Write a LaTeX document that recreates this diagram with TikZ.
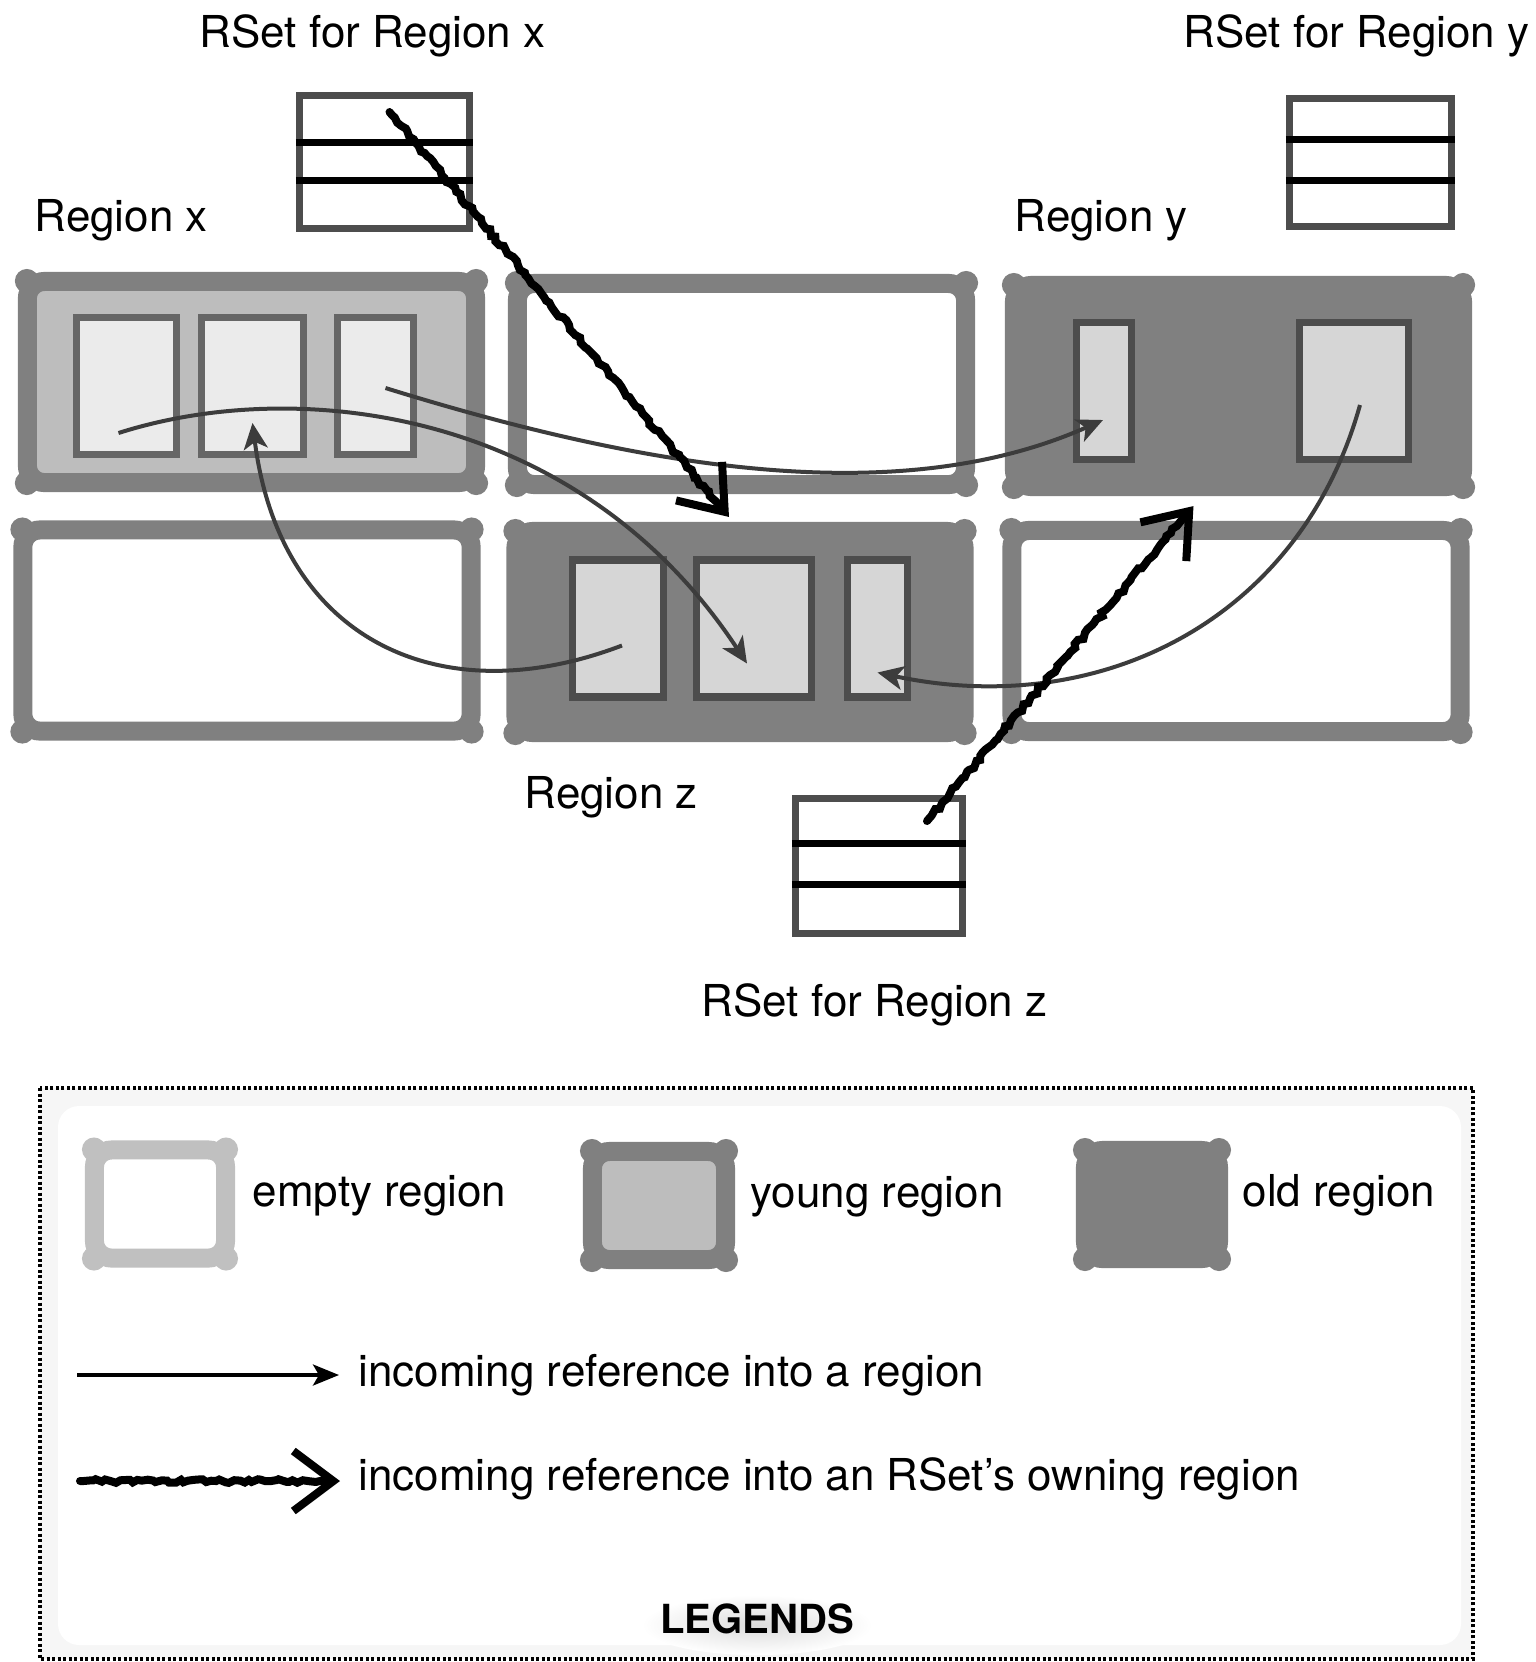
\documentclass[tikz,border=0pt]{standalone}
\usepackage{fontspec}
\setmainfont{TeX Gyre Heros}
\usepackage{tikz}
\usetikzlibrary{arrows.meta, positioning, calc, decorations.pathmorphing}
\definecolor{regGray}{HTML}{808080}
\definecolor{youngGray}{HTML}{BDBDBD}
\definecolor{emptyGray}{HTML}{C0C0C0}
\definecolor{slotLight}{HTML}{EBEBEB}
\definecolor{slotLightEdge}{HTML}{666666}
\definecolor{slotOld}{HTML}{D6D6D6}
\definecolor{slotOldEdge}{HTML}{4D4D4D}
\definecolor{refGray}{HTML}{3C3C3C}
\definecolor{legendBack}{HTML}{F6F6F6}

\begin{document}
\begin{tikzpicture}[x=0.01cm, y=-0.01cm,
  font=\fontsize{12.5}{15}\selectfont,
  region/.style={rectangle, line width=0.19cm, rounded corners=0.17cm, inner sep=0pt,
                 minimum width=4.48cm, minimum height=2.01cm},
  emptyreg/.style={region, draw=regGray, fill=white},
  youngreg/.style={region, draw=regGray, fill=youngGray},
  oldreg/.style={region, draw=regGray, fill=regGray},
  slot/.style={rectangle, line width=0.075cm, inner sep=0pt, minimum height=1.37cm},
  youngslot/.style={slot, draw=slotLightEdge, fill=slotLight},
  oldslot/.style={slot, draw=slotOldEdge, fill=slotOld},
  rset/.style={rectangle, draw=slotOldEdge, line width=0.07cm, fill=white, inner sep=0pt},
  rline/.style={line width=0.07cm, black},
  lbl/.style={inner sep=0pt, anchor=base west},
  ref/.style={refGray, line width=0.04cm, -{Stealth[length=0.26cm, width=0.24cm, inset=0.07cm]}},
  sketch/.style={black, line width=0.08cm, line cap=round,
                 decorate, decoration={random steps, segment length=1.3pt, amplitude=0.55pt,
                                       pre length=1pt, post length=0.2cm},
                 -{Straight Barb[length=0.4cm, width=0.6cm, line width=0.08cm]}},
]
  \useasboundingbox (0,0) rectangle (1536,1662);
  \pgfmathsetseed{7}

  % regions
  \node[youngreg] (rx) at (251.5,382) {};
  \node[emptyreg] (rt) at (741.5,384) {};
  \node[oldreg]   (ry) at (1238.5,386) {};
  \node[emptyreg] (rb) at (247,630.5) {};
  \node[oldreg]   (rz) at (740,632) {};
  \node[emptyreg] (rr) at (1236,631) {};
  % bulging corners
  \foreach \r in {rx,rt,ry,rb,rz,rr}
    \foreach \a/\sx/\sy in {north east/-1/1,north west/1/1,south east/-1/-1,south west/1/-1}
      \fill[regGray] ($(\r.\a)+(9*\sx,9*\sy)$) circle (0.12cm);

  % slots inside the regions
  \node[youngslot, minimum width=0.995cm] (xs1) at (126.5,386) {};
  \node[youngslot, minimum width=1.015cm] (xs2) at (252.5,386) {};
  \node[youngslot, minimum width=0.755cm] (xs3) at (375.5,386) {};
  \node[oldslot, minimum width=0.545cm] (ys1) at (1104,391) {};
  \node[oldslot, minimum width=1.085cm] (ys2) at (1354,391) {};
  \node[oldslot, minimum width=0.905cm] (zs1) at (618,628.5) {};
  \node[oldslot, minimum width=1.145cm] (zs2) at (754,628.5) {};
  \node[oldslot, minimum width=0.595cm] (zs3) at (877.5,628.5) {};

  % remembered sets
  \node[rset, minimum width=1.70cm, minimum height=1.33cm] (rsx) at (384.5,162) {};
  \node[rset, minimum width=1.62cm, minimum height=1.28cm] (rsy) at (1370.5,162.5) {};
  \node[rset, minimum width=1.67cm, minimum height=1.35cm] (rsz) at (879,866) {};
  \draw[rline] ([yshift=0.2cm]rsx.west) -- ([yshift=0.2cm]rsx.east);
  \draw[rline] ([yshift=-0.18cm]rsx.west) -- ([yshift=-0.18cm]rsx.east);
  \draw[rline] ([yshift=0.235cm]rsy.west) -- ([yshift=0.235cm]rsy.east);
  \draw[rline] ([yshift=-0.175cm]rsy.west) -- ([yshift=-0.175cm]rsy.east);
  \draw[rline] ([yshift=0.23cm]rsz.west) -- ([yshift=0.23cm]rsz.east);
  \draw[rline] ([yshift=-0.18cm]rsz.west) -- ([yshift=-0.18cm]rsz.east);

  % labels
  \node[lbl] (lrsx) at (199,47) {RSet for Region x};
  \node[lbl] (lrsy) at (1183,47) {RSet for Region y};
  \node[lbl] (lrx) at (34,231) {Region x};
  \node[lbl] (lry) at (1014,231) {Region y};
  \node[lbl] (lrz) at (524,808) {Region z};
  \node[lbl] (lrsz) at (701,1016) {RSet for Region z};

  % references between regions
  \draw[ref] ($(xs1)+(-8,47)$) .. controls (300,375) and (580,410) .. ($(zs2)+(-7,35)$);
  \draw[ref] ($(xs3)+(10,2)$) .. controls (650,470) and (900,510) .. ($(ys1)+(-1,29)$);
  \draw[ref] ($(zs1)+(4,17)$) .. controls (440,715) and (280,640) .. ($(xs2)+(0,37)$);
  \draw[ref] ($(ys2)+(6,14)$) .. controls (1300,620) and (1100,720) .. ($(zs3)+(0,44)$);

  % references kept in the rsets
  \draw[sketch] ($(rsx)+(5,-50)$) -- ($(rz.north)+(-11,-5)$);
  \draw[sketch] ($(rsz)+(48,-45)$) -- ($(ry.south)+(-45,10)$);

  % legend
  \fill[legendBack] (40,1088) rectangle (1473,1659);
  \fill[white, rounded corners=6pt] (58,1106) rectangle (1461,1645);
  \draw[black, line width=0.035cm, dash pattern=on 0.03cm off 0.025cm] (40,1088) rectangle (1473,1659);

  \node[region, draw=emptyGray, fill=white, minimum width=1.31cm, minimum height=1.08cm] (lgempty) at (160,1204) {};
  \node[region, draw=regGray, fill=youngGray, minimum width=1.33cm, minimum height=1.08cm] (lgyoung) at (659,1205.5) {};
  \node[region, draw=regGray, fill=regGray, minimum width=1.33cm, minimum height=1.08cm] (lgold) at (1152,1204.5) {};
  \foreach \a/\sx/\sy in {north east/-1/1,north west/1/1,south east/-1/-1,south west/1/-1} {
    \fill[emptyGray] ($(lgempty.\a)+(9*\sx,9*\sy)$) circle (0.12cm);
    \fill[regGray] ($(lgyoung.\a)+(9*\sx,9*\sy)$) circle (0.12cm);
    \fill[regGray] ($(lgold.\a)+(9*\sx,9*\sy)$) circle (0.12cm);
  }
  \node[lbl] (lgemptytxt) at (252,1206) {empty region};
  \node[lbl] (lgyoungtxt) at (750,1207) {young region};
  \node[lbl] (lgoldtxt) at (1242,1206) {old region};

  \coordinate (lgref) at (77,1375);
  \node[lbl] (lgreftxt) at (358,1386) {incoming reference into a region};
  \draw[black, line width=0.035cm, -{Stealth[length=0.26cm, width=0.21cm, inset=0.06cm]}, shorten >=0.19cm]
    (lgref) -- (lgref -| lgreftxt.west);

  \coordinate (lgrset) at (80,1481);
  \coordinate (lgrsetend) at (340,1481);
  \node[lbl] (lgrsettxt) at (358,1490) {incoming reference into an RSet’s owning region};
  \draw[sketch] (lgrset) -- (lgrsetend);

  \shade[inner color=black!14, outer color=white] (757,1625) ellipse (1.15cm and 0.3cm);
  \node[font=\bfseries\fontsize{11.4}{14}\selectfont, inner sep=0pt, anchor=base]
    (lgtitle) at (757,1633) {LEGENDS};
\end{tikzpicture}
\end{document}
